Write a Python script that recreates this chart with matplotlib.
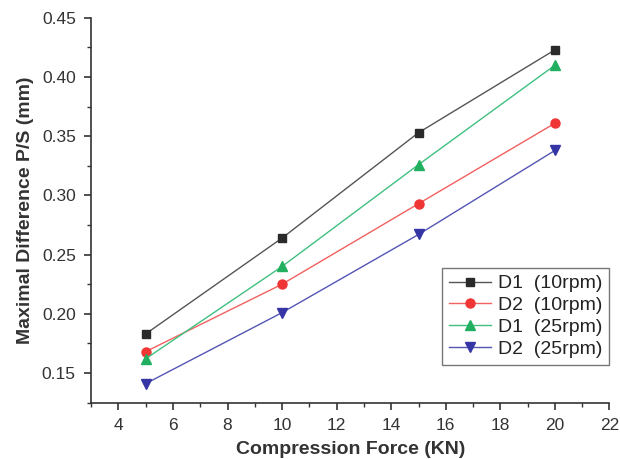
import matplotlib
matplotlib.use('Agg')
import matplotlib.pyplot as plt
from matplotlib.ticker import MultipleLocator, FormatStrFormatter

plt.rcParams['font.family'] = ['Liberation Sans', 'DejaVu Sans']

force = [5, 10, 15, 20]
d1_10 = [0.183, 0.264, 0.353, 0.423]
d2_10 = [0.168, 0.225, 0.293, 0.361]
d1_25 = [0.162, 0.240, 0.326, 0.410]
d2_25 = [0.141, 0.201, 0.267, 0.338]
labels = ['D1  (10rpm)', 'D2  (10rpm)', 'D1  (25rpm)', 'D2  (25rpm)']

fig = plt.figure(figsize=(6.2, 4.59), dpi=100)
ax = fig.add_axes([0.147, 0.123, 0.836, 0.838])

series = [d1_10, d2_10, d1_25, d2_25]
colors = ['#2a2a2a', '#f03535', '#22b060', '#3535a5']
line_colors = ['#555555', '#f26060', '#40c080', '#5555b5']
markers = ['s', 'o', '^', 'v']
msizes = [6, 6.5, 7, 7]
for vals, c, lc, m, ms, lab in zip(series, colors, line_colors, markers, msizes, labels):
    ax.plot(force, vals, color=lc, marker=m, markersize=ms, linewidth=1.0,
            markerfacecolor=c, markeredgecolor=c, label=lab)

ax.set_xlim(3, 22)
ax.set_ylim(0.125, 0.45)
ax.xaxis.set_major_locator(MultipleLocator(2))
ax.xaxis.set_minor_locator(MultipleLocator(1))
ax.yaxis.set_major_locator(MultipleLocator(0.05))
ax.yaxis.set_minor_locator(MultipleLocator(0.025))
ax.yaxis.set_major_formatter(FormatStrFormatter('%.2f'))
ax.set_xticks([4, 6, 8, 10, 12, 14, 16, 18, 20, 22])

for side in ['top', 'right']:
    ax.spines[side].set_visible(False)
for side in ['left', 'bottom']:
    ax.spines[side].set_color('#333333')
    ax.spines[side].set_linewidth(1.2)

ax.tick_params(which='major', direction='out', length=5, width=1.2,
               labelsize=12.5, colors='#333333', labelcolor='#333333', pad=6)
ax.tick_params(which='minor', direction='out', length=3, width=1.0,
               colors='#333333')

ax.set_xlabel('Compression Force (KN)', fontsize=14, color='#333333',
              fontweight='bold', labelpad=6)
ax.set_ylabel('Maximal Difference P/S (mm)', fontsize=14, color='#333333',
              fontweight='bold', labelpad=6)

leg = ax.legend(loc='upper right', bbox_to_anchor=(1.0, 0.35), fontsize=14,
                frameon=True, fancybox=False, handlelength=2.2,
                handletextpad=0.35, borderpad=0.35, labelspacing=0.22,
                borderaxespad=0)
leg.get_frame().set_edgecolor('#555555')
leg.get_frame().set_linewidth(1.0)
for t in leg.get_texts():
    t.set_color('#222222')

plt.savefig('out.png', dpi=100, facecolor='white')
plt.close()
